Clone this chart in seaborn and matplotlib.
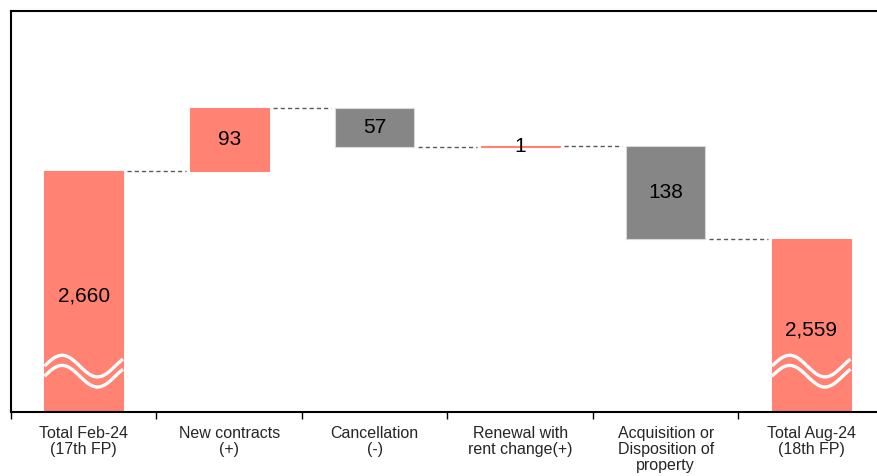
import numpy as np
import pandas as pd
import matplotlib
matplotlib.use("Agg")
import matplotlib.pyplot as plt
import seaborn as sns

# data
categories = ["Total Feb-24\n(17th FP)", "New contracts\n(+)", "Cancellation\n(-)",
              "Renewal with\nrent change(+)", "Acquisition or\nDisposition of\nproperty",
              "Total Aug-24\n(18th FP)"]
changes = [2660, 93, -57, 1, -138, 2559]
kinds = ["total", "up", "down", "up", "down", "total"]
value_labels = ["2,660", "93", "57", "1", "138", "2,559"]

SALMON = "#FF8272"
GREY = "#868686"
Y_FLOOR = 2303
Y_TOP = 2897
W = 0.54

# running totals -> bar bottoms / heights
bases, heights, levels = [], [], []
running = 0
for v, k in zip(changes, kinds):
    if k == "total":
        running = v
        bases.append(Y_FLOOR)
        heights.append(v - Y_FLOOR)
    else:
        lo = min(running, running + v)
        bases.append(lo)
        heights.append(abs(v))
        running += v
    levels.append(running)

df = pd.DataFrame({"cat": categories, "base": bases, "height": heights,
                   "kind": kinds, "label": value_labels})

sns.set_style("white")
plt.rcParams["font.family"] = ["Liberation Sans", "DejaVu Sans"]

fig = plt.figure(figsize=(8.78, 4.76), dpi=100)
ax = fig.add_axes([11 / 878, 64 / 476, 873 / 878, 401 / 476])

salmon_df = df[df["kind"] != "down"]
grey_df = df[df["kind"] == "down"]
sns.barplot(data=salmon_df, x="cat", y="height", order=categories, bottom=salmon_df["base"].values,
            color=SALMON, saturation=1, width=W, edgecolor=SALMON, linewidth=0.8, ax=ax)
sns.barplot(data=grey_df, x="cat", y="height", order=categories, bottom=grey_df["base"].values,
            color=GREY, saturation=1, width=W, edgecolor="#d9d9d9", linewidth=0.8, ax=ax)

# connectors
for i in range(len(categories) - 1):
    ax.plot([i + W / 2 + 0.03, i + 1 - W / 2 - 0.03], [levels[i], levels[i]],
            ls=(0, (3, 2.2)), color="#5a5a5a", lw=1.0)

# value labels
for i, row in df.iterrows():
    if row["kind"] == "total":
        y = (Y_FLOOR + changes[i]) / 2 - 6
    else:
        y = row["base"] + row["height"] / 2
    ax.text(i, y, row["label"], ha="center", va="center", fontsize=15, color="black")

# axis-break waves on total bars
t = np.linspace(0, 1, 100)
for i, k in enumerate(kinds):
    if k != "total":
        continue
    xs = i - W / 2 + t * W
    for c in (2371, 2356):
        ax.plot(xs, c + 16 * np.sin(2 * np.pi * t / 0.9), color="white", lw=2.4,
                solid_capstyle="butt")

ax.set_xlim(-0.5, 5.5)
ax.set_ylim(Y_FLOOR, Y_TOP)
ax.set_yticks([])
ax.set_xlabel("")
ax.set_ylabel("")
ax.set_xticks(range(len(categories)))
ax.set_xticklabels(categories, fontsize=11.5, linespacing=1.1)
ax.set_xticks(np.arange(-0.5, 6, 1), minor=True)
ax.tick_params(axis="x", which="major", length=0, pad=10)
ax.tick_params(axis="x", which="minor", length=5, width=1, color="black", direction="out", bottom=True)
for s in ["top", "left", "bottom", "right"]:
    ax.spines[s].set_visible(True)
    ax.spines[s].set_color("black")
    ax.spines[s].set_linewidth(1.5)

fig.savefig("out.png", dpi=100)
